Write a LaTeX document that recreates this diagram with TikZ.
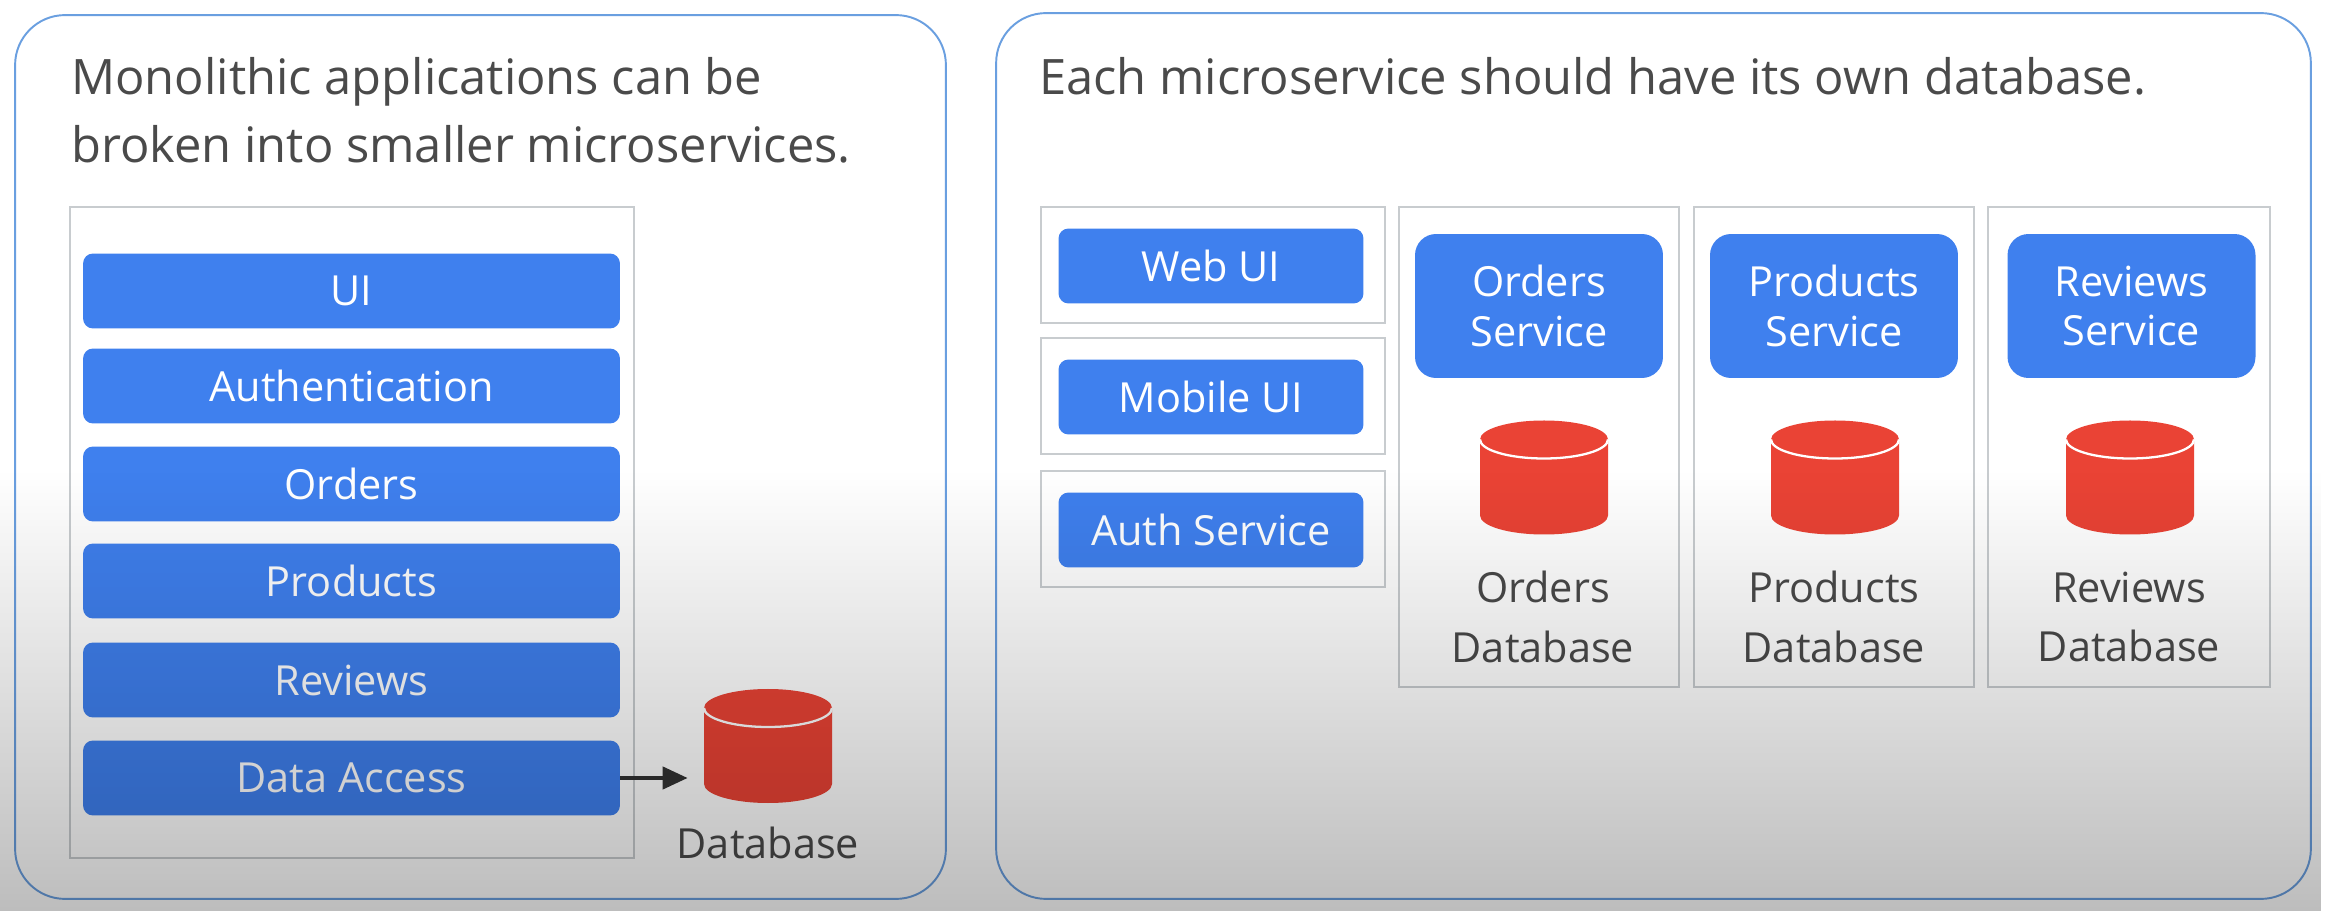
\documentclass[tikz,border=0pt]{standalone}
\usepackage{fontspec}
\setmainfont{Open Sans}
\usetikzlibrary{arrows.meta,fadings}

\definecolor{panelblue}{HTML}{6A9FE0}
\definecolor{barblue}{HTML}{3F80EE}
\definecolor{frame}{HTML}{C8CCCF}
\definecolor{dbred}{HTML}{EA4335}
\definecolor{inktext}{HTML}{4A4A4A}

\tikzfading[name=dimfade,top color=transparent!100,bottom color=transparent!74]

\tikzset{
    panel/.style={draw=panelblue,line width=1.1pt,rounded corners=1cm,inner sep=0pt},
    framebox/.style={draw=frame,line width=1.6pt,inner sep=0pt},
    bar/.style={fill=barblue,text=white,rounded corners=.2cm,inner sep=0pt,font=\fontsize{23.6}{28.4}\selectfont,align=center},
    widebar/.style={bar,minimum width=10.74cm,minimum height=1.5cm},
    sidebar/.style={bar,minimum width=6.1cm,minimum height=1.5cm},
    svcbar/.style={bar,rounded corners=.42cm,minimum width=4.96cm,minimum height=2.88cm},
    dbspot/.style={inner sep=0pt,minimum width=2.56cm,minimum height=2.28cm},
    dbtext/.style={text=inktext,align=center,inner sep=0pt,font=\fontsize{23.6}{34}\selectfont},
    heading/.style={text=inktext,align=left,anchor=west,inner sep=0pt,font=\fontsize{27.8}{38.5}\selectfont},
    flow/.style={draw=black!80,line width=2.4pt,-{Triangle[length=.5cm,width=.44cm]},shorten >=.32cm}
}

% name, x of the centre, y of the centre
\newcommand{\dbdrum}[3]{
    \node[dbspot] (#1) at (#2,#3) {};
    \fill[dbred] (#2-64,#3-38) arc[start angle=180,end angle=360,x radius=64,y radius=19]
        -- (#2+64,#3+38) arc[start angle=0,end angle=180,x radius=64,y radius=19] -- cycle;
    \draw[white,line width=1.3pt] (#2-64,#3-38) arc[start angle=180,end angle=0,x radius=64,y radius=19];
}

\begin{document}
\begin{tikzpicture}[x=.02cm,y=-.02cm]
        \useasboundingbox (0,0) rectangle (2326,911);
        \fill[white] (0,0) rectangle (2326,911);

        \node[panel,minimum width=18.62cm,minimum height=17.68cm] (leftpanel) at (480.5,457) {};
        \node[panel,minimum width=26.3cm,minimum height=17.72cm] (rightpanel) at (1653.5,456) {};

        \node[heading] (lefthead) at (71,110) {Monolithic applications can be\\broken into smaller microservices.};
        \node[heading] (righthead) at (1039,76) {Each microservice should have its own database.};

        % monolith
        \node[framebox,minimum width=11.28cm,minimum height=13.02cm] (monoframe) at (352,532.5) {};
        \node[widebar] (ui) at (351.5,291) {UI};
        \node[widebar] (auth) at (351.5,386) {Authentication};
        \node[widebar] (orders) at (351.5,484) {Orders};
        \node[widebar] (products) at (351.5,581) {Products};
        \node[widebar] (reviews) at (351.5,680) {Reviews};
        \node[widebar] (access) at (351.5,778) {Data Access};

        \dbdrum{maindb}{768}{746}
        \node[dbtext] (maintext) at (768,843) {Database};
        \draw[flow] (access.east) -- (access.east -| maindb.west);

        % left column of the right panel
        \node[framebox,minimum width=6.88cm,minimum height=2.32cm] (webframe) at (1213,265) {};
        \node[framebox,minimum width=6.88cm,minimum height=2.32cm] (mobileframe) at (1213,396) {};
        \node[framebox,minimum width=6.88cm,minimum height=2.32cm] (authframe) at (1213,529) {};
        \node[sidebar] (webui) at (1211,266) {Web UI};
        \node[sidebar] (mobileui) at (1211,397) {Mobile UI};
        \node[sidebar] (authsvc) at (1211,530) {Auth Service};

        % services
        \node[framebox,minimum width=5.6cm,minimum height=9.6cm] (orderframe) at (1539,447) {};
        \node[framebox,minimum width=5.6cm,minimum height=9.6cm] (productframe) at (1834,447) {};
        \node[framebox,minimum width=5.64cm,minimum height=9.6cm] (reviewframe) at (2129,447) {};

        \node[svcbar] (ordersvc) at (1539,306) {Orders\\Service};
        \node[svcbar] (productsvc) at (1834,306) {Products\\Service};
        \node[svcbar] (reviewsvc) at (2131.5,306) {Reviews\\Service};

        \dbdrum{orderdb}{1544}{477.5}
        \dbdrum{productdb}{1835}{477.5}
        \dbdrum{reviewdb}{2130}{477.5}

        \node[dbtext] (ordertext) at (1543,617) {Orders\\Database};
        \node[dbtext] (producttext) at (1834,617) {Products\\Database};
        \node[dbtext] (reviewtext) at (2129,617) {Reviews\\Database};

        \fill[black,path fading=dimfade] (0,470) rectangle (2326,911);
    \end{tikzpicture}
\end{document}
